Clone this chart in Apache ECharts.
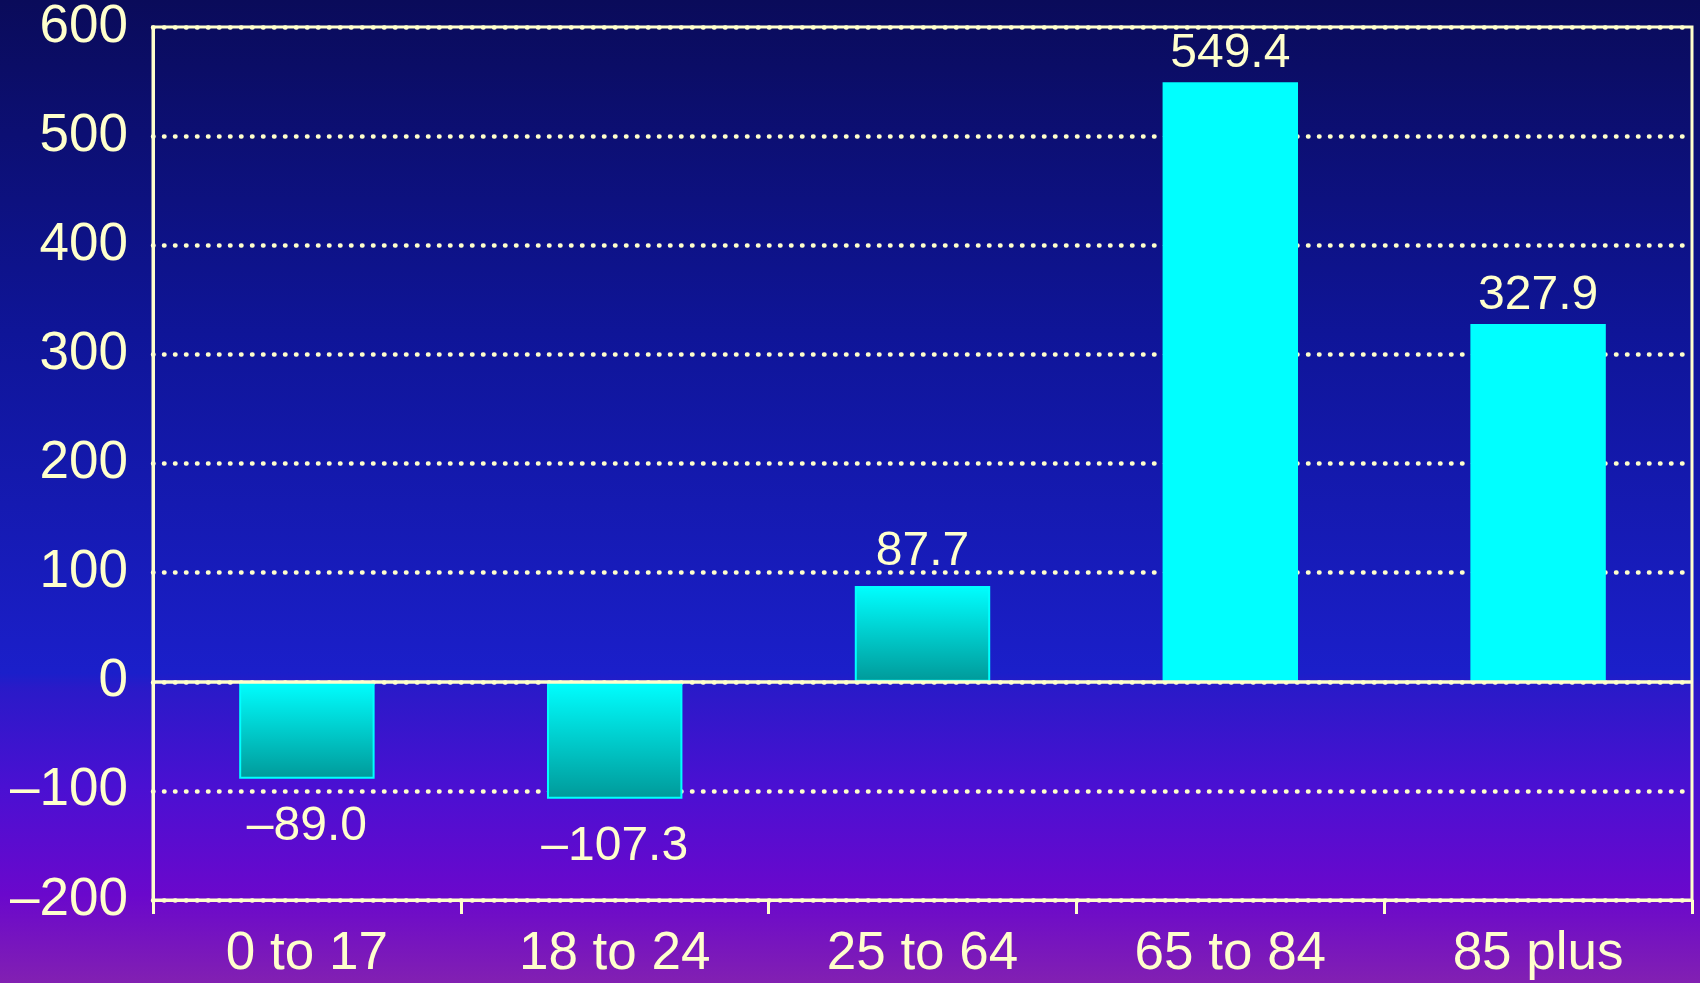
<!DOCTYPE html>
<html>
<head>
<meta charset="utf-8">
<script src="https://cdn.jsdelivr.net/npm/echarts@6/dist/echarts.min.js"></script>
<style>
html,body{margin:0;padding:0;width:1700px;height:983px;overflow:hidden;}
#c{width:1700px;height:983px;}
</style>
</head>
<body>
<div id="c"></div>
<script>
var categories = ["0 to 17", "18 to 24", "25 to 64", "65 to 84", "85 plus"];
var values = [-89.0, -107.3, 87.7, 549.4, 327.9];
var gradientBars = [true, true, true, false, false];
var yTicks = [-200, -100, 0, 100, 200, 300, 400, 500, 600];

var TXT = '#FFFFCC';
var FONT = 'Liberation Sans, Arial, sans-serif';
var labelGap = [24, 24, 10, 4, 4];
function fmt(v) {
  var s = Math.abs(v).toFixed(1);
  return (v < 0 ? '\u2013' : '') + s;
}
var chart = echarts.init(document.getElementById('c'));
var data = values.map(function (v, i) {
  var item = { value: v, label: { position: v < 0 ? 'bottom' : 'top', distance: labelGap[i] } };
  if (gradientBars[i]) {
    item.itemStyle = {
      color: { type: 'linear', x: 0, y: 0, x2: 0, y2: 1, colorStops: [
        { offset: 0, color: '#00FFFF' }, { offset: 1, color: '#009999' }] },
      borderColor: '#00FFFF', borderWidth: 2
    };
  } else {
    item.itemStyle = { color: '#00FFFF', borderWidth: 0 };
  }
  return item;
});
chart.setOption({
  animation: false,
  backgroundColor: { type: 'linear', x: 0, y: 0, x2: 0, y2: 1, colorStops: [
    { offset: 0, color: '#0a0b5a' },
    { offset: 0.34, color: '#0f1598' },
    { offset: 0.685, color: '#1b1fca' },
    { offset: 0.70, color: '#2a1ac8' },
    { offset: 0.80, color: '#4a10d2' },
    { offset: 0.91, color: '#6a08cc' },
    { offset: 1, color: '#8220b2' }] },
  grid: { left: 153, right: 8, top: 27, bottom: 83, show: true, borderColor: TXT, borderWidth: 3, backgroundColor: 'transparent' },
  xAxis: {
    type: 'category', data: categories,
    axisLine: { onZero: false, lineStyle: { color: TXT, width: 3 } },
    axisTick: { show: true, length: 14, lineStyle: { color: TXT, width: 3 } },
    axisLabel: { color: TXT, fontSize: 53, fontFamily: FONT, margin: 28 }
  },
  yAxis: {
    type: 'value', min: yTicks[0], max: yTicks[yTicks.length - 1], interval: 100,
    axisLine: { show: true, lineStyle: { color: TXT, width: 3 } },
    axisTick: { show: false },
    axisLabel: { color: TXT, fontSize: 53, fontFamily: FONT, margin: 25,
      formatter: function (v) { return v < 0 ? '\u2013' + Math.abs(v) : String(v); } },
    splitLine: { show: true, lineStyle: { color: TXT, width: 4.5, type: [0.5, 10.5], cap: 'round' } }
  },
  series: [{
    type: 'bar', data: data, barWidth: '44%',
    label: { show: true, color: TXT, fontSize: 48, fontFamily: FONT,
      formatter: function (p) { return fmt(p.value); } },
    markLine: {
      silent: true, symbol: 'none', label: { show: false },
      lineStyle: { color: TXT, width: 3.5, type: 'solid' },
      data: [{ yAxis: 0 }]
    }
  }]
});
</script>
</body>
</html>
